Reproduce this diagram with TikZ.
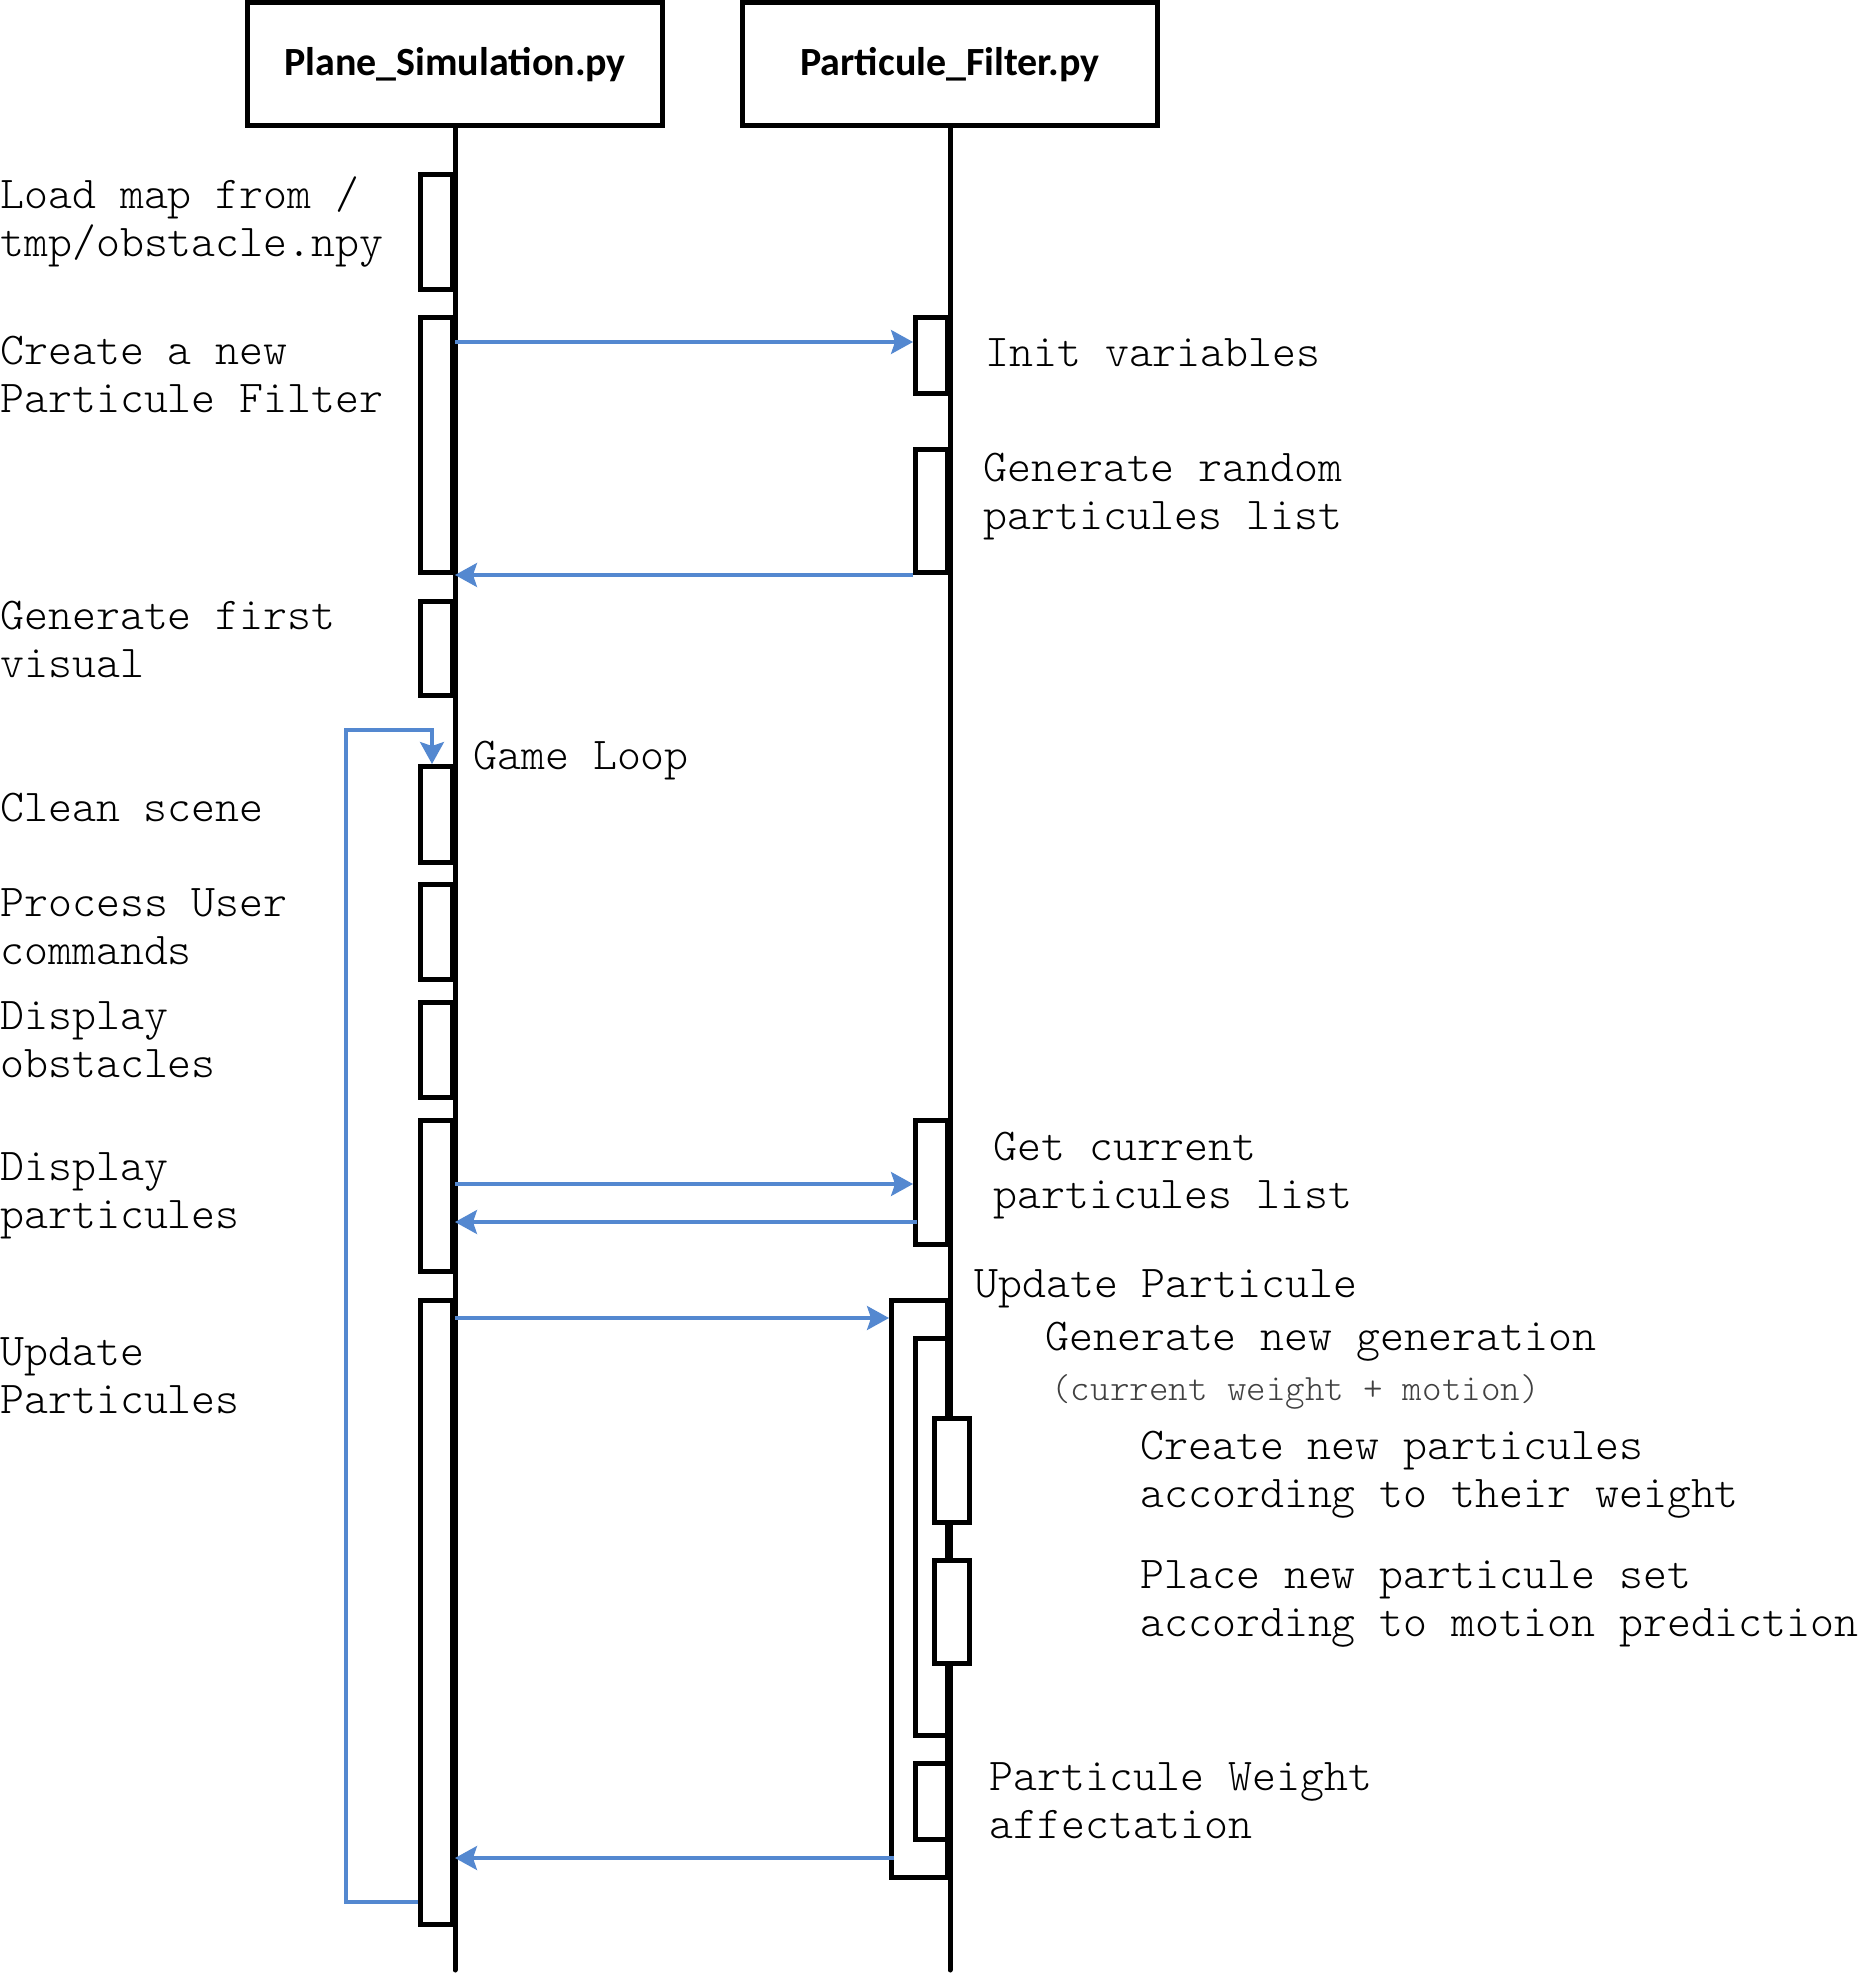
\documentclass[tikz,border=0pt]{standalone}
\usepackage{fontspec}
\setmainfont{Latin Modern Mono Light}
\newfontfamily\titlefont{Carlito}
\usetikzlibrary{arrows.meta}
\definecolor{msgblue}{RGB}{84,136,208}
\begin{document}
\begin{tikzpicture}[x=0.5pt,y=-0.5pt,
  head/.style={draw, line width=2.5pt, minimum width=207.5pt, minimum height=61.5pt, inner sep=0pt, font=\titlefont\bfseries\fontsize{20}{24}\selectfont},
  life/.style={line width=2.5pt, line cap=round},
  act/.style={draw, fill=white, line width=2.5pt, minimum width=16pt, inner sep=0pt, anchor=north east},
  msg/.style={draw=msgblue, line width=1.6pt, -{Stealth[length=11pt,width=12pt,inset=2pt]}},
  lbl/.style={font=\fontsize{22.8}{24}\selectfont, align=left, inner sep=0pt, anchor=west},
  note/.style={lbl, font=\fontsize{18.6}{20}\selectfont, text=black!75}]
\useasboundingbox (0,0) rectangle (1860,1973);
% headers
\node[head] (h1) at (455,64.5) {Plane\_Simulation.py};
\node[head] (h2) at (950,64.5) {Particule\_Filter.py};
\coordinate (e1) at (455,1970);
\coordinate (e2) at (950,1970);
\draw[life] (h1.south) -- (e1);
\draw[life] (h2.south) -- (e2);
% activations lifeline 1
\node[act, minimum height=57.5pt] (a1) at (455,172) {};
\node[act, minimum height=127.5pt] (a2) at (455,315) {};
\node[act, minimum height=47pt] (a3) at (455,599) {};
\node[act, minimum height=48pt] (a4) at (455,764) {};
\node[act, minimum height=47.5pt] (a5) at (455,882) {};
\node[act, minimum height=47.5pt] (a6) at (455,1000) {};
\node[act, minimum height=75.5pt] (a7) at (455,1118) {};
\node[act, minimum height=312pt] (a8) at (455,1298) {};
% activations lifeline 2
\node[act, minimum height=38pt] (b1) at (950,315) {};
\node[act, minimum height=61.5pt] (b2) at (950,447) {};
\node[act, minimum height=62pt] (b3) at (950,1118) {};
\node[act, minimum height=288.5pt, minimum width=28pt] (big) at (950,1298) {};
\node[act, minimum height=198.5pt] (inner) at (950,1336) {};
\node[act, minimum height=52pt, minimum width=17.5pt, anchor=north] (s1) at (951.5,1416) {};
\node[act, minimum height=51.5pt, minimum width=17.5pt, anchor=north] (s2) at (951.5,1558) {};
\node[act, minimum height=38pt] (b4) at (950,1761) {};
% messages
\coordinate (m1) at (455,342);
\draw[msg] (m1) -- (m1 -| b1.west);
\draw[msg] (b2.south west) -- (b2.south west -| a2.east);
\coordinate (m3) at (455,1184);
\draw[msg] (m3) -- (m3 -| b3.west);
\coordinate (m4) at (917,1222);
\draw[msg] (m4) -- (m4 -| a7.east);
\coordinate (m5) at (455,1318);
\draw[msg] (m5) -- (m5 -| big.west);
\coordinate (m6) at (894,1858);
\draw[msg] (m6) -- (m6 -| a8.east);
% loop
\coordinate (lpA) at (346,1902);
\coordinate (lpB) at (346,730);
\coordinate (lpC) at (432,730);
\draw[msg] (lpA -| a8.west) -- (lpA) -- (lpB) -- (lpC) -- (lpC |- a4.north);
% left labels
\node[lbl] (t1) at (0,222) {Load map from /\\tmp/obstacle.npy};
\node[lbl] (t2) at (0,374) {Create a new\\Particule Filter};
\node[lbl] (t3) at (0,639) {Generate first\\visual};
\node[lbl] (t4) at (0,808) {Clean scene};
\node[lbl] (t5) at (0,927) {Process User\\commands};
\node[lbl] (t6) at (0,1040) {Display\\obstacles};
\node[lbl] (t7) at (0,1196) {Display\\particules};
\node[lbl] (t8) at (0,1376) {Update\\Particules};
% right labels
\node[lbl] (r1) at (985,353) {Init variables};
\node[lbl] (r2) at (983,497) {Generate random\\particules list};
\node[lbl] (r3) at (473,761) {Game Loop};
\node[lbl] (r4) at (993,1176) {Get current\\particules list};
\node[lbl] (r5) at (974,1289) {Update Particule};
\node[lbl] (r6) at (1045,1342) {Generate new generation};
\node[note] (r7) at (1051,1392) {(current weight + motion)};
\node[lbl] (r8) at (1140,1475) {Create new particules\\according to their weight};
\node[lbl] (r9) at (1140,1604) {Place new particule set\\according to motion prediction};
\node[lbl] (r10) at (989,1801) {Particule Weight\\affectation};
\end{tikzpicture}
\end{document}
